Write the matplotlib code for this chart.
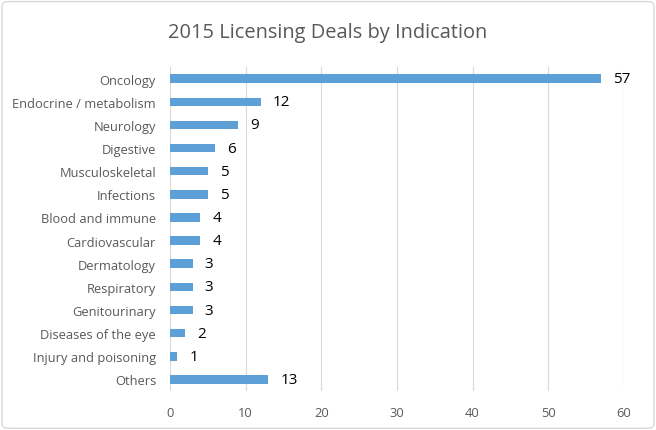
import matplotlib
matplotlib.use('Agg')
from matplotlib import pyplot as plt
from matplotlib.patches import FancyBboxPatch

categories = ['Oncology', 'Endocrine / metabolism', 'Neurology', 'Digestive',
              'Musculoskeletal', 'Infections', 'Blood and immune', 'Cardiovascular',
              'Dermatology', 'Respiratory', 'Genitourinary', 'Diseases of the eye',
              'Injury and poisoning', 'Others']
deals = [57, 12, 9, 6, 5, 5, 4, 4, 3, 3, 3, 2, 1, 13]
xticks = [0, 10, 20, 30, 40, 50, 60]

plt.rcParams['font.family'] = ['Open Sans', 'DejaVu Sans']

fig = plt.figure(figsize=(6.56, 4.31), dpi=100)
ax = fig.add_axes([0.259, 0.0905, 0.692, 0.7515])

ypos = list(range(len(categories)))
ax.barh(ypos, deals, height=0.37, color='#5DA0D8', zorder=3)
for y, v in zip(ypos, deals):
    ax.text(v + 1.6, y, str(v), va='center', ha='left', fontsize=11, color='#000000')

ax.set_yticks(ypos)
ax.set_yticklabels(categories, fontsize=9.3, color='#595959')
ax.set_ylim(len(categories) - 0.5, -0.5)
ax.set_xlim(0, 60)
ax.set_xticks(xticks)
ax.set_xticklabels([str(t) for t in xticks], fontsize=9.3, color='#595959')
ax.tick_params(axis='y', length=0, pad=10)
ax.tick_params(axis='x', length=0, pad=11)
ax.grid(axis='x', color='#D9D9D9', linewidth=0.8, zorder=0)
for s in ax.spines.values():
    s.set_visible(False)

fig.text(0.5, 0.923, '2015 Licensing Deals by Indication', ha='center', va='center',
         fontsize=14.4, color='#595959')

border = FancyBboxPatch((0.003, 0.004), 0.994, 0.99, boxstyle='round,pad=0,rounding_size=0.01',
                        transform=fig.transFigure, facecolor='none', edgecolor='#D9D9D9',
                        linewidth=1)
fig.patches.append(border)

fig.savefig('out.png', dpi=100)
